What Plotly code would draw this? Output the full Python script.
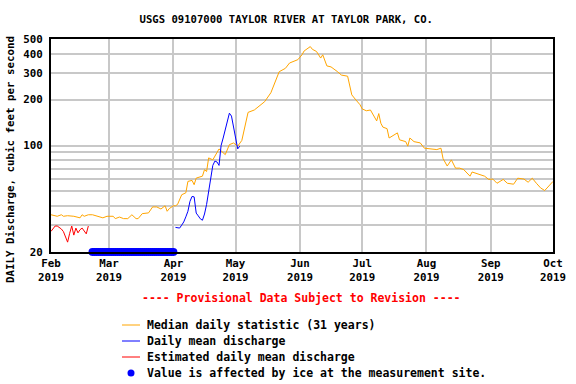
import math
import plotly.graph_objects as go

# ---------------- data ----------------
median_dates = [
    "2019-02-01", "2019-02-04", "2019-02-06", "2019-02-07", "2019-02-09", "2019-02-12",
    "2019-02-15", "2019-02-16", "2019-02-17", "2019-02-19", "2019-02-21", "2019-02-24",
    "2019-02-26", "2019-02-28", "2019-03-03", "2019-03-04", "2019-03-06", "2019-03-08",
    "2019-03-10", "2019-03-12", "2019-03-14", "2019-03-15", "2019-03-17", "2019-03-20",
    "2019-03-22", "2019-03-24", "2019-03-26", "2019-03-28", "2019-03-29", "2019-03-30",
    "2019-04-01", "2019-04-02", "2019-04-03", "2019-04-05", "2019-04-07", "2019-04-08",
    "2019-04-10", "2019-04-11", "2019-04-12", "2019-04-15", "2019-04-16", "2019-04-17",
    "2019-04-18", "2019-04-20", "2019-04-23", "2019-04-26", "2019-04-28", "2019-04-30",
    "2019-05-02", "2019-05-04", "2019-05-05", "2019-05-06", "2019-05-07", "2019-05-10",
    "2019-05-13", "2019-05-15", "2019-05-18", "2019-05-20", "2019-05-22", "2019-05-25",
    "2019-05-27", "2019-05-31", "2019-06-02", "2019-06-03", "2019-06-06", "2019-06-07",
    "2019-06-09", "2019-06-11", "2019-06-12", "2019-06-14", "2019-06-16", "2019-06-19",
    "2019-06-21", "2019-06-24", "2019-06-25", "2019-06-26", "2019-06-28", "2019-06-30",
    "2019-07-01", "2019-07-03", "2019-07-05", "2019-07-08", "2019-07-09", "2019-07-10",
    "2019-07-11", "2019-07-13", "2019-07-14", "2019-07-18", "2019-07-19", "2019-07-22",
    "2019-07-23", "2019-07-24", "2019-07-26", "2019-07-29", "2019-07-31", "2019-08-03",
    "2019-08-06", "2019-08-08", "2019-08-09", "2019-08-11", "2019-08-13", "2019-08-15",
    "2019-08-17", "2019-08-19", "2019-08-22", "2019-08-23", "2019-08-26", "2019-08-29",
    "2019-08-31", "2019-09-02", "2019-09-04", "2019-09-07", "2019-09-09", "2019-09-12",
    "2019-09-14", "2019-09-17", "2019-09-19", "2019-09-21", "2019-09-23", "2019-09-25",
    "2019-09-27", "2019-09-30", "2019-10-01",
]
median_values = [
    35.1, 34.3, 35.1, 34.3, 34.6, 34.3,
    33.5, 35.1, 34.3, 35.1, 35.1, 34.3,
    33.5, 34.3, 34.3, 33.1, 33.9, 33.1,
    33.1, 35.1, 33.1, 33.1, 35.7, 36.1,
    39.5, 39.5, 38.3, 40.2, 37.0, 38.5,
    40.2, 40.2, 41.0, 47.5, 48.9, 58.1,
    59.0, 55.3, 61.1, 62.9, 69.4, 67.5,
    82.9, 80.5, 94.9, 87.1, 101.3, 103.9,
    98.9, 108, 125, 150, 165, 171,
    185, 194, 222, 263, 305, 321,
    348, 366, 394, 417, 446, 428,
    414, 375, 394, 333, 328, 306,
    290, 285, 240, 215, 199, 185,
    174, 169, 171, 145, 162, 140,
    132, 129, 112, 121, 109, 106,
    99, 112, 106, 104, 96, 95,
    94, 96, 82, 73.3, 80.5, 71,
    71, 69.4, 62.9, 67, 65.3, 62.9,
    59.9, 60.2, 56.5, 59.9, 56.5, 55.7,
    61, 60.2, 57.4, 61, 56.5, 52.7,
    50.6, 56.5, 58.1,
]

daily_dates = [
    "2019-04-02", "2019-04-03", "2019-04-04", "2019-04-05", "2019-04-06", "2019-04-07",
    "2019-04-08", "2019-04-09", "2019-04-10", "2019-04-11", "2019-04-12", "2019-04-13",
    "2019-04-14", "2019-04-15", "2019-04-16", "2019-04-17", "2019-04-18", "2019-04-19",
    "2019-04-20", "2019-04-21", "2019-04-22", "2019-04-23", "2019-04-24", "2019-04-25",
    "2019-04-26", "2019-04-27", "2019-04-28", "2019-04-29", "2019-04-30", "2019-05-01",
    "2019-05-02", "2019-05-03",
]
daily_values = [
    29, 28.8, 28.7, 30, 31.5, 34,
    37, 43, 46.3, 46, 36, 34.5,
    33, 32.3, 35.5, 41, 49, 60,
    74, 79, 78, 74, 100, 112,
    128, 148, 163, 156, 130, 109,
    95, 99,
]

est_dates = [
    "2019-02-01", "2019-02-02", "2019-02-03", "2019-02-04", "2019-02-05", "2019-02-06",
    "2019-02-07", "2019-02-08", "2019-02-09", "2019-02-10", "2019-02-11", "2019-02-12",
    "2019-02-13", "2019-02-14", "2019-02-15", "2019-02-16", "2019-02-17", "2019-02-18",
    "2019-02-19",
]
est_values = [
    27.3, 28.5, 29.6, 29.6, 29.0, 28.3,
    27.2, 25.0, 23.2, 26.5, 29.6, 25.8,
    28.7, 26.7, 28.0, 28.7, 27.5, 26.3,
    29.6,
]

ice_dates = [
    "2019-02-21", "2019-02-22", "2019-02-23", "2019-02-24", "2019-02-25", "2019-02-26",
    "2019-02-27", "2019-02-28", "2019-03-01", "2019-03-02", "2019-03-03", "2019-03-04",
    "2019-03-05", "2019-03-06", "2019-03-07", "2019-03-08", "2019-03-09", "2019-03-10",
    "2019-03-11", "2019-03-12", "2019-03-13", "2019-03-14", "2019-03-15", "2019-03-16",
    "2019-03-17", "2019-03-18", "2019-03-19", "2019-03-20", "2019-03-21", "2019-03-22",
    "2019-03-23", "2019-03-24", "2019-03-25", "2019-03-26", "2019-03-27", "2019-03-28",
    "2019-03-29", "2019-03-30", "2019-03-31", "2019-04-01",
]
ice_values = [20] * len(ice_dates)

month_ticks = ["2019-02-01", "2019-03-01", "2019-04-01", "2019-05-01", "2019-06-01",
               "2019-07-01", "2019-08-01", "2019-09-01", "2019-10-01"]
month_labels = ["Feb<br>2019", "Mar<br>2019", "Apr<br>2019", "May<br>2019", "Jun<br>2019",
                "Jul<br>2019", "Aug<br>2019", "Sep<br>2019", "Oct<br>2019"]

y_tickvals = [20, 30, 40, 50, 60, 70, 80, 90, 100, 200, 300, 400, 500]
y_ticktext = ["20", "", "", "", "", "", "", "", "100", "200", "300", "400", "500"]

legend_labels = [
    "Median daily statistic (31 years)",
    "Daily mean discharge",
    "Estimated daily mean discharge",
    "Value is affected by ice at the measurement site.",
]
legend_colors = ["#FFA500", "#0000FF", "#FF0000", "#0000FF"]

# ---------------- layout geometry (pixels) ----------------
W, H = 576, 384
PL, PR, PT, PB = 51, 553, 39, 252
FONT = "DejaVu Sans Mono"


def px_x(px):
    return (px - PL) / (PR - PL)


def px_y(py):
    return (PB - py) / (PB - PT)


fig = go.Figure()
fig.add_trace(go.Scatter(x=median_dates, y=median_values, mode="lines",
                         line=dict(color="#FFA500", width=1), name=legend_labels[0],
                         showlegend=False))
fig.add_trace(go.Scatter(x=est_dates, y=est_values, mode="lines",
                         line=dict(color="#FF0000", width=1), name=legend_labels[2],
                         showlegend=False))
fig.add_trace(go.Scatter(x=daily_dates, y=daily_values, mode="lines",
                         line=dict(color="#0000FF", width=1), name=legend_labels[1],
                         showlegend=False))
fig.add_trace(go.Scatter(x=ice_dates, y=ice_values, mode="markers",
                         marker=dict(color="#0000FF", size=8, symbol="circle",
                                     line=dict(width=0)),
                         cliponaxis=False, name=legend_labels[3], showlegend=False))

annotations = []
shapes = []

# y axis title
annotations.append(dict(text="<b>DAILY Discharge, cubic feet per second</b>",
                        x=px_x(10), y=px_y(160), xref="paper", yref="paper",
                        textangle=-90, showarrow=False,
                        font=dict(family=FONT, size=10.8, color="black"),
                        xanchor="center", yanchor="middle"))
# provisional
annotations.append(dict(text="<b>---- Provisional Data Subject to Revision ----</b>",
                        x=px_x(301), y=px_y(298), xref="paper", yref="paper",
                        showarrow=False, font=dict(family=FONT, size=11.5, color="#FF0000"),
                        xanchor="center", yanchor="middle"))

row_y = [325, 341, 357, 373]
for i, (lab, col) in enumerate(zip(legend_labels, legend_colors)):
    yy = px_y(row_y[i])
    annotations.append(dict(text="<b>" + lab + "</b>", x=px_x(145), y=yy,
                            xref="paper", yref="paper", showarrow=False,
                            xanchor="left", yanchor="middle",
                            font=dict(family=FONT, size=11.5, color="black")))
    if i < 3:
        shapes.append(dict(type="line", xref="paper", yref="paper",
                           x0=px_x(122), x1=px_x(140), y0=yy, y1=yy,
                           line=dict(color=col, width=1)))
    else:
        r = 3.5
        shapes.append(dict(type="circle", xref="paper", yref="paper",
                           x0=px_x(131 - r), x1=px_x(131 + r),
                           y0=px_y(row_y[i] + r), y1=px_y(row_y[i] - r),
                           fillcolor=col, line=dict(color=col, width=0)))

fig.update_layout(
    width=W, height=H,
    margin=dict(l=PL, r=W - PR, t=PT, b=H - PB, pad=0, autoexpand=False),
    paper_bgcolor="white", plot_bgcolor="white",
    showlegend=False,
    title=dict(text="<b>USGS 09107000 TAYLOR RIVER AT TAYLOR PARK, CO.</b>",
               x=0.497, xref="container", xanchor="center",
               y=1 - 19 / H, yref="container", yanchor="middle",
               font=dict(family=FONT, size=10.6, color="black")),
    font=dict(family=FONT, color="black"),
    annotations=annotations,
    shapes=shapes,
)

fig.update_xaxes(type="date", range=["2019-02-01", "2019-10-01"],
                 tickvals=month_ticks, ticktext=month_labels,
                 tickfont=dict(family=FONT, size=10.8, color="black", weight="bold"),
                 showgrid=True, gridcolor="#C8C8C8", gridwidth=1.5,
                 showline=True, linecolor="black", linewidth=2, mirror=True,
                 ticks="", zeroline=False, automargin=False)
fig.update_yaxes(type="log", range=[math.log10(19.99), math.log10(500.2)],
                 tickvals=y_tickvals, ticktext=y_ticktext,
                 tickfont=dict(family=FONT, size=10.8, color="black", weight="bold"),
                 showgrid=True, gridcolor="#C8C8C8", gridwidth=1.5,
                 showline=True, linecolor="black", linewidth=2, mirror=True,
                 ticks="", ticklabelstandoff=4, zeroline=False, automargin=False)

fig.write_html("out.html", config={"displayModeBar": False},
               post_script="document.body.style.margin='0';")
